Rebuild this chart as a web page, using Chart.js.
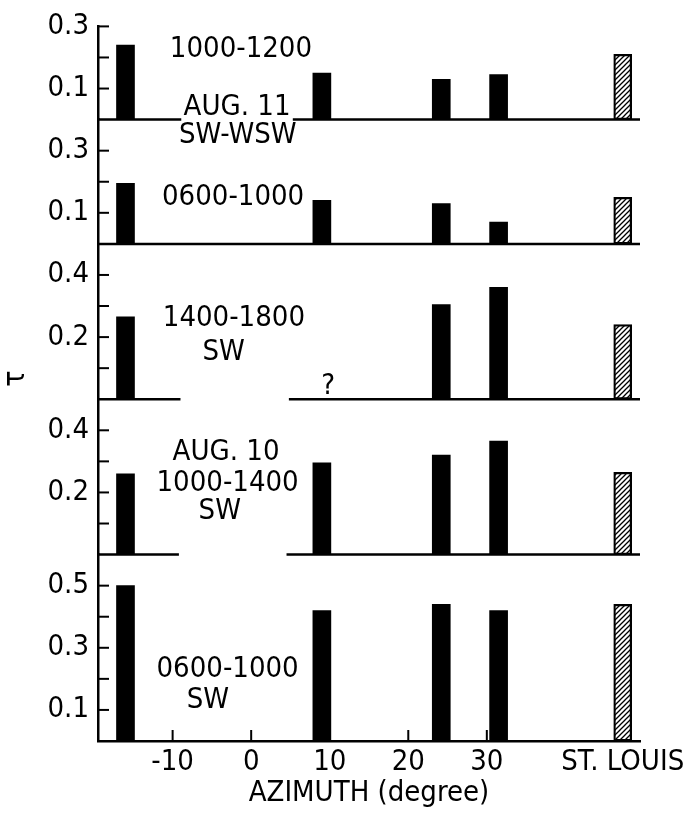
<!DOCTYPE html>
<html>
<head>
<meta charset="utf-8">
<script src="https://cdn.jsdelivr.net/npm/chart.js@4/dist/chart.umd.min.js"></script>
<style>
  html, body { margin: 0; padding: 0; background: #fff; }
  canvas { display: block; }
</style>
</head>
<body>
<canvas id="tauChart" width="690" height="813"></canvas>
<script>
// azimuth of each site (degree); last one is St. Louis itself
const azimuth = [-16, 9, 24.2, 31.5, 47.3];
const xTickValues = [-10, 0, 10, 20, 30, 47.3];
const xTickLabels = ['-10', '0', '10', '20', '30', 'ST. LOUIS'];

// optical depth tau, panels from top to bottom
const aug11_1000_1200 = [0.24, 0.15, 0.13, 0.145, 0.21];
const aug11_0600_1000 = [0.195, 0.14, 0.13, 0.07, 0.15];
const aug10_1400_1800 = [0.265, null, 0.305, 0.36, 0.24];
const aug10_1000_1400 = [0.26, 0.295, 0.32, 0.365, 0.265];
const aug10_0600_1000 = [0.50, 0.42, 0.44, 0.42, 0.44];

const panelMax = [0.3, 0.4, 0.5, 0.5, 0.6];
const labelledTicks = [[0.1, 0.3], [0.1, 0.3], [0.2, 0.4], [0.2, 0.4], [0.1, 0.3, 0.5]];
// where the zero line of a panel is broken (azimuth from / to)
const baselineGaps = [[-8.9, 5.3], null, [-9, 4.8], [-9.2, 4.5], null];

const X_MIN = -19.5, X_MAX = 49.5;
const FONT = "'DejaVu Sans Condensed', 'DejaVu Sans', sans-serif";

// text written inside the panels
const notes = [
    { axis: 'y1', x: -1.3, y: 0.225, text: '1000-1200' },
    { axis: 'y1', x: -1.8, y: 0.04, text: 'AUG. 11' },
    { axis: 'y2', x: -1.7, y: 0.35, text: 'SW-WSW' },
    { axis: 'y2', x: -2.3, y: 0.15, text: '0600-1000' },
    { axis: 'y3', x: -2.2, y: 0.26, text: '1400-1800' },
    { axis: 'y3', x: -3.5, y: 0.15, text: 'SW' },
    { axis: 'y3', x: 9.8, y: 0.04, text: '?' },
    { axis: 'y4', x: -3.2, y: 0.33, text: 'AUG. 10' },
    { axis: 'y4', x: -3.0, y: 0.23, text: '1000-1400' },
    { axis: 'y4', x: -4.0, y: 0.14, text: 'SW' },
    { axis: 'y5', x: -3.0, y: 0.23, text: '0600-1000' },
    { axis: 'y5', x: -5.5, y: 0.13, text: 'SW' }
];

document.addEventListener("DOMContentLoaded", function () {
    const canvas = document.getElementById("tauChart");
    const ctx = canvas.getContext('2d');

    // diagonal hatching for the St. Louis bar
    const tile = document.createElement('canvas');
    tile.width = 5;
    tile.height = 5;
    const t = tile.getContext('2d');
    t.strokeStyle = '#000';
    t.lineWidth = 1.3;
    t.beginPath();
    t.moveTo(-1, 6); t.lineTo(6, -1);
    t.moveTo(-1, 1); t.lineTo(1, -1);
    t.moveTo(4, 6); t.lineTo(6, 4);
    t.stroke();
    const hatch = ctx.createPattern(tile, 'repeat');

    const panels = [aug11_1000_1200, aug11_0600_1000, aug10_1400_1800, aug10_1000_1400, aug10_0600_1000];

    const datasets = [];
    panels.forEach(function (values, i) {
        const axisId = 'y' + (i + 1);
        datasets.push({
            type: 'bar',
            yAxisID: axisId,
            data: azimuth.map((x, j) => ({ x: x, y: values[j] })),
            backgroundColor: azimuth.map((x, j) => j === azimuth.length - 1 ? hatch : '#000'),
            borderColor: '#000',
            borderWidth: azimuth.map((x, j) => j === azimuth.length - 1 ? 1.6 : 0),
            borderSkipped: false,
            barThickness: 18,
            grouped: false
        });
        if (i === panels.length - 1) return; // bottom panel uses the x axis line
        const gap = baselineGaps[i];
        const line = gap
            ? [{ x: X_MIN, y: 0 }, { x: gap[0], y: 0 }, { x: (gap[0] + gap[1]) / 2, y: null }, { x: gap[1], y: 0 }, { x: X_MAX, y: 0 }]
            : [{ x: X_MIN, y: 0 }, { x: X_MAX, y: 0 }];
        datasets.push({
            type: 'line',
            yAxisID: axisId,
            data: line,
            borderColor: '#000',
            borderWidth: 2.5,
            pointRadius: 0,
            spanGaps: false,
            clip: false
        });
    });

    const scales = {
        x: {
            type: 'linear',
            min: X_MIN,
            max: X_MAX,
            offset: false,
            afterBuildTicks: function (scale) {
                scale.ticks = xTickValues.map(v => ({ value: v }));
            },
            afterFit: function (scale) { scale.height = 72; },
            grid: { display: false, drawTicks: false },
            border: { display: true, color: '#000', width: 2.5 },
            ticks: {
                autoSkip: false,
                maxRotation: 0,
                padding: 4,
                color: '#000',
                font: { family: FONT, size: 29 },
                callback: function (value) {
                    const k = xTickValues.indexOf(value);
                    return k >= 0 ? xTickLabels[k] : '';
                }
            },
            title: {
                display: true,
                text: 'AZIMUTH (degree)',
                color: '#000',
                font: { family: FONT, size: 29 },
                padding: { top: 0, bottom: 2 }
            }
        }
    };

    // stacked axes are laid out bottom-up, so add the lowest panel first
    for (let i = panelMax.length - 1; i >= 0; i--) {
        const max = panelMax[i];
        scales['y' + (i + 1)] = {
            type: 'linear',
            position: 'left',
            stack: 'tau',
            stackWeight: max,
            min: 0,
            max: max,
            afterFit: function (scale) { scale.width = 70; },
            grid: { display: false, drawTicks: false },
            border: { display: true, color: '#000', width: 2.5 },
            ticks: {
                stepSize: 0.1,
                autoSkip: false,
                padding: 9,
                color: '#000',
                font: { family: FONT, size: 29 },
                callback: function (value) {
                    const v = Math.round(value * 10) / 10;
                    return labelledTicks[i].includes(v) ? v.toFixed(1) : '';
                }
            }
        };
    }

    // inward tick marks, panel texts and the tau label
    const decorations = {
        id: 'decorations',
        afterDraw: function (chart) {
            const c = chart.ctx;
            const area = chart.chartArea;
            c.save();
            c.strokeStyle = '#000';
            c.lineWidth = 2;
            panelMax.forEach(function (max, i) {
                const s = chart.scales['y' + (i + 1)];
                s.ticks.forEach(function (tk) {
                    if (tk.value < 0.05) return;
                    if (tk.value > max - 0.05 && i !== 0) return;
                    const py = s.getPixelForValue(tk.value);
                    c.beginPath();
                    c.moveTo(s.right, py);
                    c.lineTo(s.right + 11, py);
                    c.stroke();
                });
            });
            const xs = chart.scales.x;
            xTickValues.slice(0, -1).forEach(function (v) {
                const px = xs.getPixelForValue(v);
                c.beginPath();
                c.moveTo(px, area.bottom);
                c.lineTo(px, area.bottom - 11);
                c.stroke();
            });

            c.fillStyle = '#000';
            c.font = '29px ' + FONT;
            c.textAlign = 'center';
            c.textBaseline = 'middle';
            notes.forEach(function (n) {
                c.fillText(n.text, xs.getPixelForValue(n.x), chart.scales[n.axis].getPixelForValue(n.y));
            });

            c.translate(16, area.top + 0.493 * (area.bottom - area.top));
            c.rotate(-Math.PI / 2);
            c.font = '30px ' + FONT;
            c.fillText('τ', 0, 0);
            c.restore();
        }
    };

    new Chart(ctx, {
        data: { datasets: datasets },
        options: {
            responsive: false,
            animation: false,
            layout: { padding: { left: 28, right: 50, top: 23, bottom: 0 } },
            plugins: {
                legend: { display: false },
                tooltip: { enabled: false }
            },
            scales: scales
        },
        plugins: [decorations]
    });
});
</script>
</body>
</html>
